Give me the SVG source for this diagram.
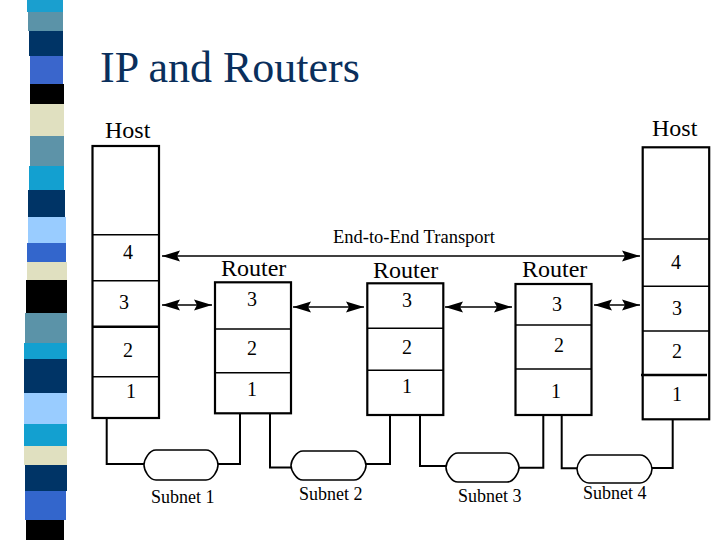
<svg xmlns="http://www.w3.org/2000/svg" width="720" height="540" viewBox="0 0 720 540">
<style>
.lbl{font-family:"Liberation Serif","Times New Roman",serif;fill:#000}
.big{font-size:24px}
.dig{font-size:20px;text-anchor:middle}
.sub{font-size:18px}
.box{fill:#fff;stroke:#000;stroke-width:2.2}
.div{stroke:#000;stroke-width:1.4}
.thick{stroke:#000;stroke-width:2.4}
.wire{fill:none;stroke:#000;stroke-width:2}
.net{fill:#fff;stroke:#000;stroke-width:1.6}
.arr{stroke:#000;stroke-width:1.5;marker-start:url(#ah);marker-end:url(#ah)}
</style>
<defs>
<marker id="ah" markerUnits="userSpaceOnUse" markerWidth="20" markerHeight="12" refX="18" refY="6" orient="auto-start-reverse">
<path d="M0,0.5 L18,6 L0,11.5 L3,6 Z" fill="#000"/>
</marker>
</defs>
<rect width="720" height="540" fill="#fff"/>
<g id="stripes">
<rect x="27" y="0" width="36" height="12" fill="#1a9fcf"/>
<rect x="28" y="12" width="35" height="19" fill="#5b93a8"/>
<rect x="29" y="31" width="34" height="25" fill="#003466"/>
<rect x="30" y="56" width="33" height="28" fill="#3a66cc"/>
<rect x="30" y="84" width="34" height="20" fill="#000"/>
<rect x="30" y="104" width="34" height="32" fill="#e0e0c0"/>
<rect x="30" y="136" width="34" height="30" fill="#5d93a8"/>
<rect x="29" y="166" width="35" height="24" fill="#13a0d0"/>
<rect x="28" y="190" width="37" height="27" fill="#003466"/>
<rect x="28" y="217" width="38" height="26" fill="#99ccff"/>
<rect x="27" y="243" width="39" height="19" fill="#3366cc"/>
<rect x="27" y="262" width="40" height="18" fill="#e0e0c0"/>
<rect x="26" y="280" width="41" height="33" fill="#000"/>
<rect x="25" y="313" width="42" height="30" fill="#5b93a8"/>
<rect x="24" y="343" width="43" height="16" fill="#13a0d0"/>
<rect x="24" y="359" width="43" height="34" fill="#003466"/>
<rect x="24" y="393" width="43" height="31" fill="#99ccff"/>
<rect x="24" y="424" width="43" height="22" fill="#13a0d0"/>
<rect x="24" y="446" width="43" height="19" fill="#e0e0c0"/>
<rect x="25" y="465" width="42" height="26" fill="#003466"/>
<rect x="25" y="491" width="41" height="29" fill="#3366cc"/>
<rect x="26" y="520" width="38" height="20" fill="#000"/>
</g>
<text x="100" y="82" font-family="Liberation Serif, Times New Roman, serif" font-size="44" fill="#0a2f5c">IP and Routers</text>
<g id="host1">
<rect class="box" x="92.5" y="146" width="66.5" height="272"/>
<line class="div" x1="92.5" y1="234.7" x2="159" y2="234.7"/>
<line class="div" x1="92.5" y1="280.7" x2="159" y2="280.7"/>
<line class="thick" x1="92.5" y1="326.7" x2="159" y2="326.7"/>
<line class="div" x1="92.5" y1="376.7" x2="159" y2="376.7"/>
<text class="lbl big" x="105" y="138">Host</text>
<text class="lbl dig" x="128" y="259">4</text>
<text class="lbl dig" x="124" y="309">3</text>
<text class="lbl dig" x="128" y="357">2</text>
<text class="lbl dig" x="131" y="398">1</text>
</g>
<g id="router1">
<rect class="box" x="215" y="282.3" width="76" height="131"/>
<line class="div" x1="215" y1="329" x2="291" y2="329"/>
<line class="div" x1="215" y1="372.7" x2="291" y2="372.7"/>
<text class="lbl big" x="221" y="276">Router</text>
<text class="lbl dig" x="252" y="306">3</text>
<text class="lbl dig" x="252" y="355">2</text>
<text class="lbl dig" x="252" y="396">1</text>
</g>
<g id="router2">
<rect class="box" x="367.3" y="283.3" width="76" height="131.7"/>
<line class="div" x1="367.3" y1="328.3" x2="443.3" y2="328.3"/>
<line class="div" x1="367.3" y1="370.3" x2="443.3" y2="370.3"/>
<text class="lbl big" x="373" y="278">Router</text>
<text class="lbl dig" x="407" y="307">3</text>
<text class="lbl dig" x="407" y="354">2</text>
<text class="lbl dig" x="407" y="393">1</text>
</g>
<g id="router3">
<rect class="box" x="515.5" y="284" width="76" height="131"/>
<line class="div" x1="515.5" y1="325" x2="591.5" y2="325"/>
<line class="div" x1="515.5" y1="369" x2="591.5" y2="369"/>
<text class="lbl big" x="522" y="277">Router</text>
<text class="lbl dig" x="557" y="311">3</text>
<text class="lbl dig" x="559" y="352">2</text>
<text class="lbl dig" x="556" y="398">1</text>
</g>
<g id="host2">
<rect class="box" x="642.7" y="147.3" width="66.5" height="272"/>
<line class="div" x1="642.7" y1="239" x2="709.2" y2="239"/>
<line class="div" x1="642.7" y1="286.3" x2="709.2" y2="286.3"/>
<line class="div" x1="642.7" y1="331" x2="709.2" y2="331"/>
<line class="thick" x1="641" y1="375" x2="707" y2="375"/>
<text class="lbl big" x="652" y="136">Host</text>
<text class="lbl dig" x="676" y="269">4</text>
<text class="lbl dig" x="677" y="315">3</text>
<text class="lbl dig" x="677" y="358">2</text>
<text class="lbl dig" x="677" y="401">1</text>
</g>
<g id="subnet1">
<path class="net" d="M156,450 L206,450 C213,450 218,460 218,465 C218,470 213,480 206,480 L156,480 C149,480 144,470 144,465 C144,460 149,450 156,450 Z"/>
<text class="lbl sub" x="151" y="503">Subnet 1</text>
</g>
<g id="subnet2">
<path class="net" d="M303,451 L354,451 C361,451 366,461 366,465.5 C366,470 361,480 354,480 L303,480 C296,480 291,470 291,465.5 C291,461 296,451 303,451 Z"/>
<text class="lbl sub" x="299" y="500">Subnet 2</text>
</g>
<g id="subnet3">
<path class="net" d="M458,453 L507,453 C514,453 519,463 519,467.5 C519,472 514,482 507,482 L458,482 C451,482 446,472 446,467.5 C446,463 451,453 458,453 Z"/>
<text class="lbl sub" x="458" y="502">Subnet 3</text>
</g>
<g id="subnet4">
<path class="net" d="M589,455 L640,455 C647,455 652,464 652,469 C652,474 647,483 640,483 L589,483 C582,483 577,474 577,469 C577,464 582,455 589,455 Z"/>
<text class="lbl sub" x="583" y="499">Subnet 4</text>
</g>
<g id="connectors">
<path class="wire" d="M106.7,418 V464 H144"/>
<path class="wire" d="M240,413 V464 H218"/>
<path class="wire" d="M270,413 V467.5 H291"/>
<path class="wire" d="M390,415 V464 H366"/>
<path class="wire" d="M420,415 V466 H446"/>
<path class="wire" d="M543.3,415 V467.7 H519"/>
<path class="wire" d="M561.7,415 V468.3 H577"/>
<path class="wire" d="M672.7,419 V468 H652"/>
<line class="arr" x1="162" y1="256" x2="640" y2="256"/>
<line class="arr" x1="162" y1="305" x2="212" y2="305"/>
<line class="arr" x1="293" y1="307" x2="364" y2="307"/>
<line class="arr" x1="445" y1="307" x2="512" y2="307"/>
<line class="arr" x1="594" y1="305" x2="640" y2="305"/>
<text class="lbl" x="333" y="243" font-size="18.5">End-to-End Transport</text>
</g>
</svg>
